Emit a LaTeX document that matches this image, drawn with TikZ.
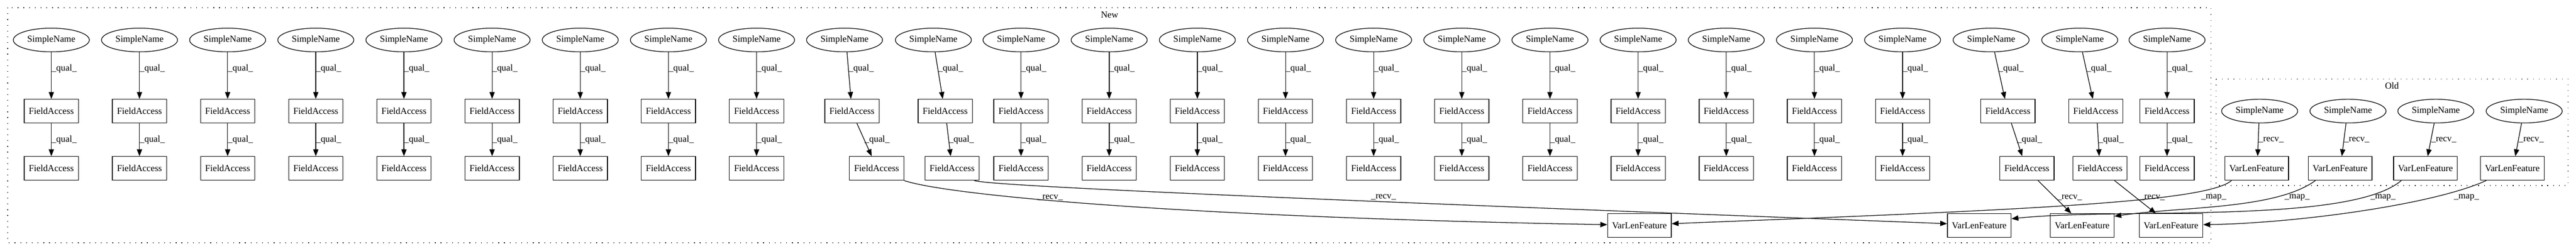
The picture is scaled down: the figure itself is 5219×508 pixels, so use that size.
\documentclass[tikz,border=0pt]{standalone}
\usepackage{fontspec}
\setmainfont{Liberation Serif}
\usetikzlibrary{shapes.geometric,arrows.meta,calc}
\begin{document}
\begin{tikzpicture}[x=0.75pt,y=-0.75pt,
  every node/.style={font=\fontsize{14pt}{16pt}\selectfont, inner sep=0pt},
  sname/.style={ellipse, draw, line width=1pt, minimum width=115.5pt, minimum height=36pt},
  fabox/.style={rectangle, draw, line width=1pt, minimum width=82.5pt, minimum height=36pt},
  vlfbox/.style={rectangle, draw, line width=1pt, minimum width=96.75pt, minimum height=36pt},
  conn/.style={draw, line width=1pt, -{Triangle[length=10.5pt,width=8pt]}},
  lbl/.style={anchor=west},
  clusterbox/.style={draw, line width=1pt, dash pattern=on 1pt off 7.75pt},
]
\useasboundingbox (0,0) rectangle (5219,508);

% clusters
\draw[clusterbox] (15.6,15.7) rectangle (4479.5,491.7);
\draw[clusterbox] (4490,160) rectangle (5202.6,375.7);
\node (tnew) at (2248,30) {New};
\node (told) at (4846,174) {Old};

% New columns
\foreach \i/\xs/\xa/\xb/\pa/\pb/\pc/\pd in {
  0/104/104/104/0/0/0/0,
  1/282.6/282.6/282.6/0/0/0/0,
  2/461.2/461.2/461.2/0/0/0/0,
  3/639.8/639.8/639.8/0/0/0/0,
  4/818.4/818.4/818.4/0/0/0/0,
  5/997/997/997/0/0/0/0,
  6/1175.6/1175.6/1175.6/0/0/0/0,
  7/1354.2/1354.2/1354.2/0/0/0/0,
  8/1532.8/1532.8/1532.8/0/0/0/0,
  9/1711/1726/1776/5/-2/10/-10,
  10/1891/1915/1929/3.5/-5/3/-3,
  11/2068.6/2068.6/2068.6/0/0/0/0,
  12/2247.2/2247.2/2247.2/0/0/0/0,
  13/2425.8/2425.8/2425.8/0/0/0/0,
  14/2604.4/2604.4/2604.4/0/0/0/0,
  15/2783/2783/2783/0/0/0/0,
  16/2961.6/2961.6/2961.6/0/0/0/0,
  17/3140.2/3140.2/3140.2/0/0/0/0,
  18/3318.8/3318.8/3318.8/0/0/0/0,
  19/3497.4/3497.4/3497.4/0/0/0/0,
  20/3676/3676/3676/0/0/0/0,
  21/3854.6/3854.6/3854.6/0/0/0/0,
  22/4034/4068/4106.5/7/-6/7/-9.5,
  23/4213.5/4246/4254.5/5.5/-6/3/-1.5,
  24/4390.4/4390.4/4390.4/0/0/0/0}{
  \node[sname] (sn\i) at (\xs,81) {SimpleName};
  \node[fabox] (fa\i) at (\xa,225) {FieldAccess};
  \node[fabox] (fb\i) at (\xb,341) {FieldAccess};
  \draw[conn] ($(sn\i.south)+(\pa,0)$) -- node[lbl,pos=0.354] (qa\i) {\_qual\_} ($(fa\i.north)+(\pb,0)$);
  \draw[conn] ($(fa\i.south)+(\pc,0)$) -- node[lbl,pos=0.5] (qb\i) {\_qual\_} ($(fb\i.north)+(\pd,0)$);
}

% New VarLenFeature nodes
\node[vlfbox] (vA) at (3321.5,457) {VarLenFeature};
\node[vlfbox] (vB) at (4010,457) {VarLenFeature};
\node[vlfbox] (vC) at (4218.5,457) {VarLenFeature};
\node[vlfbox] (vD) at (4398.5,457) {VarLenFeature};

% Old nodes
\foreach \k/\xs/\xv/\ps/\pe in {1/4578/4572/-1.5/2, 2/4757/4741/-4/3.6, 3/4935/4914/-3.4/4.5, 4/5114/5090/-5.4/6}{
  \node[sname] (osn\k) at (\xs,225) {SimpleName};
  \node[vlfbox] (ovlf\k) at (\xv,341) {VarLenFeature};
  \draw[conn] ($(osn\k.south)+(\ps,0)$) -- node[lbl,pos=0.5] (orl\k) {\_recv\_} ($(ovlf\k.north)+(\pe,0)$);
}

% New recv edges
\draw[conn] (fb9.south east) .. controls ($(fb9.south east)+(89,30)$) and ($(vA.west)+(-857,-17)$) .. ($(vA.west)+(0,-2)$);
\draw[conn] ($(fb10.south)+(45,0)$) .. controls ($(fb10.south)+(81,15)$) and ($(vB.west)+(-645.5,-29)$) .. ($(vB.west)+(0,-4)$);
\draw[conn] ($(fb22.south)+(22.5,0)$) -- ($(vC.north)+(-22,0)$);
\draw[conn] ($(fb23.south)+(29.5,0)$) -- ($(vD.north)+(-30.5,0)$);
\node (r9) at (2128,400) {\_recv\_};
\node (r10) at (2803,399) {\_recv\_};
\node (r22) at (4193,400) {\_recv\_};
\node (r23) at (4360.5,400) {\_recv\_};

% map edges
\draw[conn] ($(ovlf1.south)+(-51,0)$) .. controls ($(ovlf1.south)+(-102,44)$) and ($(vA.east)+(714,-32)$) .. ($(vA.east)+(0,-4)$);
\draw[conn] ($(ovlf2.south)+(-50,0)$) .. controls ($(ovlf2.south)+(-131,59)$) and ($(vC.east)+(137,-39)$) .. ($(vC.east)+(0,-19)$);
\draw[conn] ($(ovlf3.south)+(-49,0)$) .. controls ($(ovlf3.south)+(-154,89)$) and ($(vB.east)+(225,-37)$) .. ($(vB.east)+(0,-14)$);
\draw[conn] ($(ovlf4.south)+(-53,0)$) .. controls ($(ovlf4.south)+(-160,49)$) and ($(vD.east)+(187,-5)$) .. ($(vD.east)+(0,-2)$);
\node (m1) at (4485,400) {\_map\_};
\node (m2) at (4654,400) {\_map\_};
\node (m3) at (4828,400) {\_map\_};
\node (m4) at (4997,400) {\_map\_};
\end{tikzpicture}
\end{document}
